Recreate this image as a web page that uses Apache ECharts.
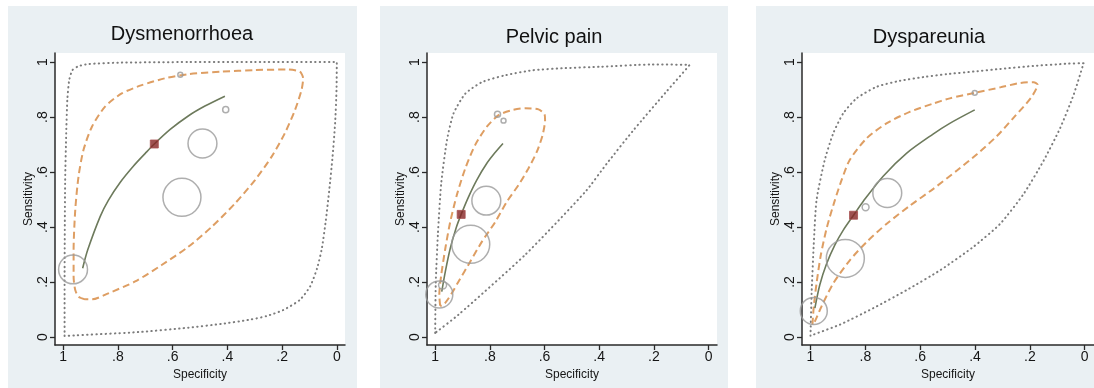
<!DOCTYPE html>
<html>
<head>
<meta charset="utf-8">
<script src="https://cdn.jsdelivr.net/npm/echarts@6/dist/echarts.min.js"></script>
<style>
  html, body { margin: 0; padding: 0; background: #ffffff; }
  #chart { width: 1094px; height: 388px; }
</style>
</head>
<body>
<div id="chart"></div>
<script>
// ---- Data: [specificity, sensitivity] pairs ----
const panelTitles = ['Dysmenorrhoea', 'Pelvic pain', 'Dyspareunia'];
const tickValues = [0, 0.2, 0.4, 0.6, 0.8, 1];
const tickLabels = ['0', '.2', '.4', '.6', '.8', '1'];

// Dysmenorrhoea
const dysmenStudies = [[0.572, 0.954], [0.406, 0.827], [0.491, 0.704], [0.566, 0.508], [0.964, 0.246]];
const dysmenWeights = [0.13, 0.16, 0.76, 1.0, 0.76];
const dysmenSummary = [[0.667, 0.702]];
const dysmenCurve = [[0.929, 0.25], [0.910, 0.318], [0.865, 0.438], [0.835, 0.497], [0.792, 0.562], [0.743, 0.622],
  [0.700, 0.668], [0.667, 0.702], [0.609, 0.755], [0.543, 0.804], [0.482, 0.840], [0.409, 0.876]];
const dysmenConfidence = [[0.920, 0.137], [0.944, 0.147], [0.956, 0.171], [0.962, 0.219], [0.962, 0.316], [0.956, 0.462],
  [0.944, 0.584], [0.926, 0.680], [0.895, 0.765], [0.847, 0.838], [0.786, 0.886], [0.713, 0.916], [0.628, 0.941],
  [0.543, 0.956], [0.421, 0.965], [0.299, 0.971], [0.178, 0.973], [0.135, 0.965], [0.123, 0.941], [0.129, 0.898],
  [0.153, 0.825], [0.190, 0.741], [0.238, 0.656], [0.299, 0.571], [0.372, 0.486], [0.457, 0.401], [0.543, 0.328],
  [0.640, 0.262], [0.737, 0.202], [0.835, 0.159], [0.895, 0.137], [0.920, 0.137]];
const dysmenPrediction = [[0.995, 0.004], [0.995, 0.195], [0.993, 0.559], [0.989, 0.741], [0.985, 0.862], [0.978, 0.935],
  [0.966, 0.971], [0.944, 0.985], [0.908, 0.993], [0.786, 0.998], [0.543, 1.0], [0.299, 1.0], [0.0, 1.0], [0.001, 0.90],
  [0.006, 0.78], [0.016, 0.65], [0.028, 0.53], [0.040, 0.425], [0.055, 0.32], [0.072, 0.25], [0.097, 0.185],
  [0.135, 0.135], [0.196, 0.098], [0.257, 0.076], [0.318, 0.063], [0.420, 0.048], [0.543, 0.034], [0.725, 0.018],
  [0.995, 0.004]];

// Pelvic pain
const pelvicStudies = [[0.772, 0.810], [0.750, 0.787], [0.813, 0.496], [0.870, 0.337], [0.985, 0.155], [0.973, 0.189]];
const pelvicWeights = [0.16, 0.13, 0.76, 1.0, 0.71, 0.21];
const pelvicSummary = [[0.905, 0.446]];
const pelvicCurve = [[0.976, 0.165], [0.963, 0.238], [0.945, 0.322], [0.924, 0.395], [0.905, 0.446], [0.878, 0.510],
  [0.848, 0.571], [0.811, 0.632], [0.780, 0.672], [0.752, 0.704]];
const pelvicConfidence = [[0.982, 0.114], [0.985, 0.153], [0.978, 0.225], [0.963, 0.322], [0.945, 0.419], [0.921, 0.516],
  [0.890, 0.613], [0.854, 0.698], [0.811, 0.765], [0.768, 0.807], [0.720, 0.825], [0.671, 0.832], [0.622, 0.828],
  [0.600, 0.810], [0.598, 0.789], [0.607, 0.735], [0.628, 0.674], [0.659, 0.613], [0.695, 0.553], [0.738, 0.492],
  [0.780, 0.419], [0.829, 0.347], [0.872, 0.274], [0.915, 0.201], [0.951, 0.141], [0.976, 0.114], [0.982, 0.114]];
const pelvicPrediction = [[1.0, 0.015], [0.998, 0.196], [0.990, 0.377], [0.978, 0.559], [0.957, 0.716], [0.933, 0.813],
  [0.890, 0.885], [0.829, 0.927], [0.744, 0.952], [0.646, 0.970], [0.524, 0.978], [0.396, 0.983], [0.213, 0.991],
  [0.070, 0.989], [0.152, 0.895], [0.274, 0.753], [0.372, 0.631], [0.451, 0.528], [0.671, 0.299], [0.915, 0.081],
  [1.0, 0.015]];

// Dyspareunia
const dyspStudies = [[0.401, 0.888], [0.799, 0.472], [0.720, 0.524], [0.873, 0.286], [0.988, 0.095]];
const dyspWeights = [0.13, 0.18, 0.76, 1.0, 0.71];
const dyspSummary = [[0.843, 0.443]];
const dyspCurve = [[0.984, 0.105], [0.966, 0.190], [0.942, 0.265], [0.911, 0.335], [0.881, 0.388], [0.843, 0.443],
  [0.808, 0.493], [0.735, 0.585], [0.650, 0.668], [0.553, 0.738], [0.492, 0.777], [0.401, 0.826]];
const dyspConfidence = [[0.993, 0.045], [0.988, 0.111], [0.978, 0.195], [0.962, 0.300], [0.940, 0.400], [0.911, 0.498],
  [0.885, 0.575], [0.857, 0.644], [0.796, 0.722], [0.723, 0.777], [0.638, 0.819], [0.553, 0.849], [0.492, 0.868],
  [0.401, 0.888], [0.308, 0.908], [0.235, 0.924], [0.186, 0.927], [0.172, 0.918], [0.196, 0.870], [0.259, 0.798],
  [0.320, 0.731], [0.393, 0.665], [0.467, 0.605], [0.552, 0.539], [0.637, 0.478], [0.722, 0.412], [0.795, 0.346],
  [0.856, 0.280], [0.917, 0.195], [0.960, 0.111], [0.984, 0.057], [0.993, 0.045]];
const dyspPrediction = [[1.0, 0.005], [0.996, 0.159], [0.988, 0.340], [0.978, 0.498], [0.948, 0.644], [0.917, 0.741],
  [0.881, 0.813], [0.832, 0.868], [0.759, 0.910], [0.674, 0.932], [0.577, 0.947], [0.504, 0.956], [0.400, 0.966],
  [0.308, 0.975], [0.186, 0.986], [0.065, 0.994], [0.004, 0.996], [0.040, 0.882], [0.089, 0.761], [0.150, 0.641],
  [0.223, 0.520], [0.308, 0.412], [0.406, 0.328], [0.527, 0.243], [0.649, 0.171], [0.771, 0.105], [0.893, 0.045],
  [1.0, 0.005]];

// ---- Layout and styling ----
const panels = [
  { studies: dysmenStudies, weights: dysmenWeights, summary: dysmenSummary, curve: dysmenCurve,
    confidence: dysmenConfidence, prediction: dysmenPrediction },
  { studies: pelvicStudies, weights: pelvicWeights, summary: pelvicSummary, curve: pelvicCurve,
    confidence: pelvicConfidence, prediction: pelvicPrediction },
  { studies: dyspStudies, weights: dyspWeights, summary: dyspSummary, curve: dyspCurve,
    confidence: dyspConfidence, prediction: dyspPrediction }
];
const frames = [
  { bg: [8, 6, 349, 382], grid: { left: 55, top: 53, width: 290, height: 292 }, xMin: -0.03, xMax: 1.03, titleX: 182, titleY: 34 },
  { bg: [380, 6, 348, 382], grid: { left: 427, top: 53, width: 290, height: 292 }, xMin: -0.031, xMax: 1.03, titleX: 554, titleY: 37.5 },
  { bg: [756, 6, 338, 382], grid: { left: 802, top: 53, width: 292, height: 292 }, xMin: -0.034, xMax: 1.031, titleX: 929, titleY: 37.5 }
];
const FONT = "'Liberation Sans', Arial, sans-serif";
const INK = '#151515';
const MAX_BUBBLE = 38;

function tickText(v) {
  for (let i = 0; i < tickValues.length; i++) {
    if (Math.abs(tickValues[i] - v) < 1e-6) return tickLabels[i];
  }
  return '';
}

const axisCommon = {
  type: 'value',
  axisLine: { show: true, onZero: false, lineStyle: { color: '#2a2a2a', width: 1.5 } },
  axisTick: { show: true, customValues: tickValues, length: 5, lineStyle: { color: '#2a2a2a', width: 1.3 } },
  splitLine: { show: false },
  nameLocation: 'middle',
  nameTextStyle: { fontFamily: FONT, fontSize: 12, color: INK }
};

const grids = [], xAxes = [], yAxes = [], series = [], graphics = [];

frames.forEach((f, i) => {
  graphics.push({
    type: 'rect', z: -10, silent: true,
    shape: { x: f.bg[0], y: f.bg[1], width: f.bg[2], height: f.bg[3] },
    style: { fill: '#eaf0f3' }
  });
  graphics.push({
    type: 'text', z: 10, silent: true, x: f.titleX, y: f.titleY,
    style: { text: panelTitles[i], font: '20px ' + FONT, fill: '#111', textAlign: 'center', textVerticalAlign: 'middle' }
  });
  grids.push(Object.assign({ show: true, backgroundColor: '#ffffff', borderWidth: 0 }, f.grid));
  xAxes.push(Object.assign({}, axisCommon, {
    gridIndex: i, inverse: true, min: f.xMin, max: f.xMax,
    name: 'Specificity', nameGap: 19,
    axisLabel: { customValues: tickValues, formatter: tickText, margin: 5, fontFamily: FONT, fontSize: 14, color: INK }
  }));
  yAxes.push(Object.assign({}, axisCommon, {
    gridIndex: i, min: -0.029, max: 1.033,
    name: 'Sensitivity', nameGap: 20,
    axisLabel: { customValues: tickValues, formatter: tickText, rotate: 90, margin: 5, fontFamily: FONT, fontSize: 14, color: INK }
  }));

  const p = panels[i];
  series.push({
    type: 'line', name: 'Prediction region', xAxisIndex: i, yAxisIndex: i, data: p.prediction,
    smooth: 0.2, symbol: 'none', silent: true, z: 2,
    lineStyle: { color: '#7c7c7c', width: 2, type: [0.4, 4.2], cap: 'round' }
  });
  series.push({
    type: 'line', name: 'Confidence region', xAxisIndex: i, yAxisIndex: i, data: p.confidence,
    smooth: 0.25, symbol: 'none', silent: true, z: 3,
    lineStyle: { color: '#de9e63', width: 2, type: [7, 4] }
  });
  series.push({
    type: 'line', name: 'SROC curve', xAxisIndex: i, yAxisIndex: i, data: p.curve,
    smooth: 0.3, symbol: 'none', silent: true, z: 4,
    lineStyle: { color: '#6d7a5c', width: 1.6 }
  });
  series.push({
    type: 'scatter', name: 'Study estimate', xAxisIndex: i, yAxisIndex: i, data: p.studies,
    symbol: 'circle', silent: true, z: 5,
    symbolSize: (val, params) => MAX_BUBBLE * p.weights[params.dataIndex],
    itemStyle: { color: 'rgba(0,0,0,0)', borderColor: '#9a9a9a', borderWidth: 1.5 }
  });
  series.push({
    type: 'scatter', name: 'Summary point', xAxisIndex: i, yAxisIndex: i, data: p.summary,
    symbol: 'rect', symbolSize: 8, silent: true, z: 6,
    itemStyle: { color: '#862525', borderColor: '#a85050', borderWidth: 1 }
  });
});

const chart = echarts.init(document.getElementById('chart'), null, { renderer: 'canvas' });
chart.setOption({
  animation: false,
  backgroundColor: '#ffffff',
  graphic: graphics,
  grid: grids,
  xAxis: xAxes,
  yAxis: yAxes,
  series: series
});
</script>
</body>
</html>
